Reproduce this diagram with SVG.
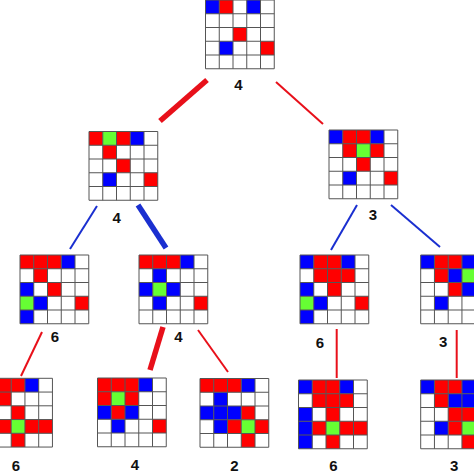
<svg xmlns="http://www.w3.org/2000/svg" xmlns:xlink="http://www.w3.org/1999/xlink" width="474" height="474" viewBox="0 0 474 474">
<style>
.bg{fill:#fff}
.r{fill:#ff0000}
.b{fill:#0000ff}
.g{fill:#66ff33}
.gl{fill:none;stroke:#555;stroke-width:1}
.lr{stroke:#e8101a;stroke-width:2;fill:none}
.lb{stroke:#1a2fd0;stroke-width:2;fill:none}
.thick{stroke-width:5.5}
.lbl{font-family:"Liberation Sans",Arial,sans-serif;font-weight:bold;font-size:15px;fill:#111;text-anchor:middle}
</style>
<defs>
<rect id="bgr" class="bg" width="68.75" height="68.75"/>
<path id="grid" class="gl" d="M0 0H68.75V68.75H0Z M13.75 0V68.75 M27.5 0V68.75 M41.25 0V68.75 M55 0V68.75 M0 13.75H68.75 M0 27.5H68.75 M0 41.25H68.75 M0 55H68.75"/>
</defs>
<g id="connectors">
<line class="lr thick" x1="207" y1="80" x2="160" y2="121"/>
<line class="lr" x1="276" y1="82" x2="323" y2="124"/>
<line class="lb" x1="97" y1="206" x2="70" y2="249"/>
<line class="lb thick" x1="138" y1="205" x2="166" y2="248"/>
<line class="lb" x1="357" y1="205" x2="331" y2="250"/>
<line class="lb" x1="391" y1="205" x2="440" y2="247"/>
<line class="lr" x1="42" y1="332" x2="21" y2="376"/>
<line class="lr thick" x1="163" y1="327" x2="150" y2="370"/>
<line class="lr" x1="198" y1="330" x2="228" y2="372"/>
<line class="lr" x1="336.7" y1="329" x2="336.7" y2="378"/>
<line class="lr" x1="456.7" y1="330" x2="456.7" y2="378"/>
</g>
<g id="n0" transform="translate(205.5,0)">
<use xlink:href="#bgr"/>
<rect class="b" x="0" y="0" width="13.75" height="13.75"/><rect class="r" x="13.75" y="0" width="13.75" height="13.75"/><rect class="b" x="41.25" y="0" width="13.75" height="13.75"/>
<rect class="r" x="27.5" y="27.5" width="13.75" height="13.75"/>
<rect class="b" x="13.75" y="41.25" width="13.75" height="13.75"/><rect class="r" x="55" y="41.25" width="13.75" height="13.75"/>
<use xlink:href="#grid"/>
<text class="lbl" x="33" y="90">4</text>
</g>
<g id="n1" transform="translate(89,131.5)">
<use xlink:href="#bgr"/>
<rect class="r" x="0" y="0" width="13.75" height="13.75"/><rect class="g" x="13.75" y="0" width="13.75" height="13.75"/><rect class="r" x="27.5" y="0" width="13.75" height="13.75"/><rect class="b" x="41.25" y="0" width="13.75" height="13.75"/>
<rect class="r" x="13.75" y="13.75" width="13.75" height="13.75"/>
<rect class="r" x="27.5" y="27.5" width="13.75" height="13.75"/>
<rect class="b" x="13.75" y="41.25" width="13.75" height="13.75"/><rect class="r" x="55" y="41.25" width="13.75" height="13.75"/>
<use xlink:href="#grid"/>
<text class="lbl" x="27.7" y="91">4</text>
</g>
<g id="n2" transform="translate(329,130)">
<use xlink:href="#bgr"/>
<rect class="b" x="0" y="0" width="13.75" height="13.75"/><rect class="r" x="13.75" y="0" width="13.75" height="13.75"/><rect class="r" x="27.5" y="0" width="13.75" height="13.75"/><rect class="b" x="41.25" y="0" width="13.75" height="13.75"/>
<rect class="r" x="13.75" y="13.75" width="13.75" height="13.75"/><rect class="g" x="27.5" y="13.75" width="13.75" height="13.75"/><rect class="r" x="41.25" y="13.75" width="13.75" height="13.75"/>
<rect class="r" x="27.5" y="27.5" width="13.75" height="13.75"/>
<rect class="b" x="13.75" y="41.25" width="13.75" height="13.75"/><rect class="r" x="55" y="41.25" width="13.75" height="13.75"/>
<use xlink:href="#grid"/>
<text class="lbl" x="44" y="90">3</text>
</g>
<g id="n3" transform="translate(20,255)">
<use xlink:href="#bgr"/>
<rect class="r" x="0" y="0" width="13.75" height="13.75"/><rect class="r" x="13.75" y="0" width="13.75" height="13.75"/><rect class="r" x="27.5" y="0" width="13.75" height="13.75"/><rect class="b" x="41.25" y="0" width="13.75" height="13.75"/>
<rect class="r" x="13.75" y="13.75" width="13.75" height="13.75"/>
<rect class="b" x="0" y="27.5" width="13.75" height="13.75"/><rect class="r" x="27.5" y="27.5" width="13.75" height="13.75"/>
<rect class="g" x="0" y="41.25" width="13.75" height="13.75"/><rect class="b" x="13.75" y="41.25" width="13.75" height="13.75"/><rect class="r" x="55" y="41.25" width="13.75" height="13.75"/>
<rect class="b" x="0" y="55" width="13.75" height="13.75"/>
<use xlink:href="#grid"/>
<text class="lbl" x="35" y="86.5">6</text>
</g>
<g id="n4" transform="translate(139,255)">
<use xlink:href="#bgr"/>
<rect class="r" x="0" y="0" width="13.75" height="13.75"/><rect class="r" x="13.75" y="0" width="13.75" height="13.75"/><rect class="r" x="27.5" y="0" width="13.75" height="13.75"/><rect class="b" x="41.25" y="0" width="13.75" height="13.75"/>
<rect class="b" x="13.75" y="13.75" width="13.75" height="13.75"/>
<rect class="b" x="0" y="27.5" width="13.75" height="13.75"/><rect class="g" x="13.75" y="27.5" width="13.75" height="13.75"/><rect class="b" x="27.5" y="27.5" width="13.75" height="13.75"/>
<rect class="b" x="13.75" y="41.25" width="13.75" height="13.75"/><rect class="r" x="55" y="41.25" width="13.75" height="13.75"/>
<use xlink:href="#grid"/>
<text class="lbl" x="39.3" y="87">4</text>
</g>
<g id="n5" transform="translate(300,255)">
<use xlink:href="#bgr"/>
<rect class="b" x="0" y="0" width="13.75" height="13.75"/><rect class="r" x="13.75" y="0" width="13.75" height="13.75"/><rect class="r" x="27.5" y="0" width="13.75" height="13.75"/><rect class="b" x="41.25" y="0" width="13.75" height="13.75"/>
<rect class="r" x="13.75" y="13.75" width="13.75" height="13.75"/><rect class="r" x="27.5" y="13.75" width="13.75" height="13.75"/><rect class="r" x="41.25" y="13.75" width="13.75" height="13.75"/>
<rect class="b" x="0" y="27.5" width="13.75" height="13.75"/><rect class="r" x="27.5" y="27.5" width="13.75" height="13.75"/>
<rect class="g" x="0" y="41.25" width="13.75" height="13.75"/><rect class="b" x="13.75" y="41.25" width="13.75" height="13.75"/><rect class="r" x="55" y="41.25" width="13.75" height="13.75"/>
<rect class="b" x="0" y="55" width="13.75" height="13.75"/>
<use xlink:href="#grid"/>
<text class="lbl" x="20" y="93">6</text>
</g>
<g id="n6" transform="translate(420.7,255)">
<use xlink:href="#bgr"/>
<rect class="b" x="0" y="0" width="13.75" height="13.75"/><rect class="r" x="13.75" y="0" width="13.75" height="13.75"/><rect class="r" x="27.5" y="0" width="13.75" height="13.75"/><rect class="b" x="41.25" y="0" width="13.75" height="13.75"/>
<rect class="r" x="13.75" y="13.75" width="13.75" height="13.75"/><rect class="b" x="27.5" y="13.75" width="13.75" height="13.75"/><rect class="g" x="41.25" y="13.75" width="13.75" height="13.75"/>
<rect class="r" x="27.5" y="27.5" width="13.75" height="13.75"/><rect class="b" x="41.25" y="27.5" width="13.75" height="13.75"/>
<rect class="b" x="13.75" y="41.25" width="13.75" height="13.75"/>
<use xlink:href="#grid"/>
<text class="lbl" x="22.6" y="92">3</text>
</g>
<g id="n7" transform="translate(-16.3,378.3)">
<use xlink:href="#bgr"/>
<rect class="r" x="0" y="0" width="13.75" height="13.75"/><rect class="r" x="13.75" y="0" width="13.75" height="13.75"/><rect class="r" x="27.5" y="0" width="13.75" height="13.75"/><rect class="b" x="41.25" y="0" width="13.75" height="13.75"/>
<rect class="r" x="13.75" y="13.75" width="13.75" height="13.75"/>
<rect class="r" x="27.5" y="27.5" width="13.75" height="13.75"/>
<rect class="r" x="13.75" y="41.25" width="13.75" height="13.75"/><rect class="g" x="27.5" y="41.25" width="13.75" height="13.75"/><rect class="r" x="41.25" y="41.25" width="13.75" height="13.75"/><rect class="r" x="55" y="41.25" width="13.75" height="13.75"/>
<rect class="r" x="27.5" y="55" width="13.75" height="13.75"/>
<use xlink:href="#grid"/>
<text class="lbl" x="32.3" y="92.5">6</text>
</g>
<g id="n8" transform="translate(97.5,378)">
<use xlink:href="#bgr"/>
<rect class="r" x="0" y="0" width="13.75" height="13.75"/><rect class="r" x="13.75" y="0" width="13.75" height="13.75"/><rect class="r" x="27.5" y="0" width="13.75" height="13.75"/><rect class="b" x="41.25" y="0" width="13.75" height="13.75"/>
<rect class="r" x="0" y="13.75" width="13.75" height="13.75"/><rect class="g" x="13.75" y="13.75" width="13.75" height="13.75"/><rect class="r" x="27.5" y="13.75" width="13.75" height="13.75"/>
<rect class="b" x="0" y="27.5" width="13.75" height="13.75"/><rect class="r" x="13.75" y="27.5" width="13.75" height="13.75"/><rect class="b" x="27.5" y="27.5" width="13.75" height="13.75"/>
<rect class="b" x="13.75" y="41.25" width="13.75" height="13.75"/><rect class="r" x="55" y="41.25" width="13.75" height="13.75"/>
<use xlink:href="#grid"/>
<text class="lbl" x="37.5" y="92">4</text>
</g>
<g id="n9" transform="translate(200,378.5)">
<use xlink:href="#bgr"/>
<rect class="r" x="0" y="0" width="13.75" height="13.75"/><rect class="r" x="13.75" y="0" width="13.75" height="13.75"/><rect class="r" x="27.5" y="0" width="13.75" height="13.75"/><rect class="b" x="41.25" y="0" width="13.75" height="13.75"/>
<rect class="b" x="13.75" y="13.75" width="13.75" height="13.75"/>
<rect class="b" x="0" y="27.5" width="13.75" height="13.75"/><rect class="b" x="13.75" y="27.5" width="13.75" height="13.75"/><rect class="b" x="27.5" y="27.5" width="13.75" height="13.75"/><rect class="r" x="41.25" y="27.5" width="13.75" height="13.75"/>
<rect class="b" x="13.75" y="41.25" width="13.75" height="13.75"/><rect class="r" x="27.5" y="41.25" width="13.75" height="13.75"/><rect class="g" x="41.25" y="41.25" width="13.75" height="13.75"/><rect class="r" x="55" y="41.25" width="13.75" height="13.75"/>
<rect class="r" x="41.25" y="55" width="13.75" height="13.75"/>
<use xlink:href="#grid"/>
<text class="lbl" x="34.3" y="92.5">2</text>
</g>
<g id="n10" transform="translate(298.5,380)">
<use xlink:href="#bgr"/>
<rect class="b" x="0" y="0" width="13.75" height="13.75"/><rect class="r" x="13.75" y="0" width="13.75" height="13.75"/><rect class="r" x="27.5" y="0" width="13.75" height="13.75"/><rect class="b" x="41.25" y="0" width="13.75" height="13.75"/>
<rect class="r" x="13.75" y="13.75" width="13.75" height="13.75"/><rect class="r" x="27.5" y="13.75" width="13.75" height="13.75"/><rect class="r" x="41.25" y="13.75" width="13.75" height="13.75"/>
<rect class="b" x="0" y="27.5" width="13.75" height="13.75"/><rect class="r" x="27.5" y="27.5" width="13.75" height="13.75"/>
<rect class="b" x="0" y="41.25" width="13.75" height="13.75"/><rect class="r" x="13.75" y="41.25" width="13.75" height="13.75"/><rect class="g" x="27.5" y="41.25" width="13.75" height="13.75"/><rect class="r" x="41.25" y="41.25" width="13.75" height="13.75"/><rect class="r" x="55" y="41.25" width="13.75" height="13.75"/>
<rect class="b" x="0" y="55" width="13.75" height="13.75"/><rect class="r" x="27.5" y="55" width="13.75" height="13.75"/>
<use xlink:href="#grid"/>
<text class="lbl" x="34.8" y="91">6</text>
</g>
<g id="n11" transform="translate(420.7,380)">
<use xlink:href="#bgr"/>
<rect class="b" x="0" y="0" width="13.75" height="13.75"/><rect class="r" x="13.75" y="0" width="13.75" height="13.75"/><rect class="r" x="27.5" y="0" width="13.75" height="13.75"/><rect class="b" x="41.25" y="0" width="13.75" height="13.75"/>
<rect class="r" x="13.75" y="13.75" width="13.75" height="13.75"/><rect class="b" x="27.5" y="13.75" width="13.75" height="13.75"/><rect class="b" x="41.25" y="13.75" width="13.75" height="13.75"/>
<rect class="r" x="27.5" y="27.5" width="13.75" height="13.75"/><rect class="r" x="41.25" y="27.5" width="13.75" height="13.75"/>
<rect class="b" x="13.75" y="41.25" width="13.75" height="13.75"/><rect class="r" x="27.5" y="41.25" width="13.75" height="13.75"/><rect class="g" x="41.25" y="41.25" width="13.75" height="13.75"/>
<rect class="r" x="41.25" y="55" width="13.75" height="13.75"/>
<use xlink:href="#grid"/>
<text class="lbl" x="33.6" y="91">3</text>
</g>
</svg>
